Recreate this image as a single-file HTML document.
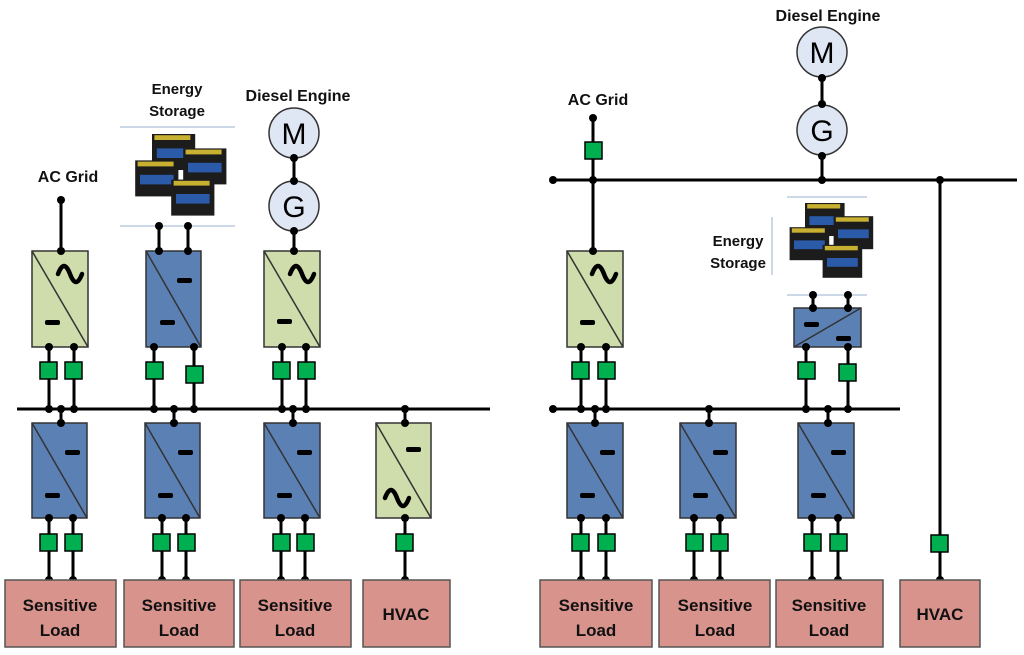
<!DOCTYPE html>
<html><head><meta charset="utf-8"><style>
html,body{margin:0;padding:0;background:#fff;width:1024px;height:655px;overflow:hidden}
text{font-family:"Liberation Sans",sans-serif;font-weight:bold}
</style></head><body>
<svg width="1024" height="655" viewBox="0 0 1024 655" xmlns="http://www.w3.org/2000/svg">
<defs>
<g id="bat">
 <rect x="0" y="0" width="36" height="30" fill="#1c1c1c"/><rect x="4" y="12" width="28" height="8" fill="#2a5aa8"/><rect x="2" y="1" width="30" height="4" fill="#c8b030"/>
</g>
<g id="bats">
 <use href="#bat" x="30" y="0"/><use href="#bat" x="56" y="12"/><use href="#bat" x="16" y="22"/><use href="#bat" x="46" y="38"/>
</g>
</defs>
<g stroke="#000" stroke-width="3" fill="none">
<line x1="17" y1="409" x2="490" y2="409"/>
<line x1="61" y1="200" x2="61" y2="251"/>
<line x1="159" y1="226" x2="159" y2="251"/><line x1="188" y1="226" x2="188" y2="251"/>
<line x1="294" y1="158" x2="294" y2="181"/><line x1="294" y1="231" x2="294" y2="251"/>
<line x1="49" y1="347" x2="49" y2="409"/><line x1="74" y1="347" x2="74" y2="409"/>
<line x1="154" y1="347" x2="154" y2="409"/><line x1="194" y1="347" x2="194" y2="409"/>
<line x1="282" y1="347" x2="282" y2="409"/><line x1="306" y1="347" x2="306" y2="409"/>
<line x1="61" y1="409" x2="61" y2="423"/><line x1="174" y1="409" x2="174" y2="423"/><line x1="293" y1="409" x2="293" y2="423"/><line x1="405" y1="409" x2="405" y2="423"/>
<line x1="49" y1="518" x2="49" y2="580"/><line x1="73" y1="518" x2="73" y2="580"/>
<line x1="162" y1="518" x2="162" y2="580"/><line x1="186" y1="518" x2="186" y2="580"/>
<line x1="281" y1="518" x2="281" y2="580"/><line x1="305" y1="518" x2="305" y2="580"/>
<line x1="405" y1="518" x2="405" y2="580"/>
<line x1="553" y1="180" x2="1017" y2="180"/>
<line x1="553" y1="409" x2="900" y2="409"/>
<line x1="593" y1="118" x2="593" y2="251"/>
<line x1="822" y1="78" x2="822" y2="104"/><line x1="822" y1="156" x2="822" y2="180"/>
<line x1="940" y1="180" x2="940" y2="580"/>
<line x1="581" y1="347" x2="581" y2="409"/><line x1="606" y1="347" x2="606" y2="409"/>
<line x1="813" y1="295" x2="813" y2="308"/><line x1="848" y1="295" x2="848" y2="308"/>
<line x1="806" y1="347" x2="806" y2="409"/><line x1="848" y1="347" x2="848" y2="409"/>
<line x1="595" y1="409" x2="595" y2="423"/><line x1="709" y1="409" x2="709" y2="423"/><line x1="828" y1="409" x2="828" y2="423"/>
<line x1="581" y1="518" x2="581" y2="580"/><line x1="606" y1="518" x2="606" y2="580"/>
<line x1="694" y1="518" x2="694" y2="580"/><line x1="720" y1="518" x2="720" y2="580"/>
<line x1="812" y1="518" x2="812" y2="580"/><line x1="838" y1="518" x2="838" y2="580"/>
</g>
<g stroke="#333" stroke-width="1.5">
<rect x="32" y="251" width="56" height="96" fill="#cfdcab"/><line x1="32" y1="251" x2="88" y2="347"/>
<rect x="146" y="251" width="55" height="96" fill="#5a80b4"/><line x1="146" y1="251" x2="201" y2="347"/>
<rect x="264" y="251" width="56" height="96" fill="#cfdcab"/><line x1="264" y1="251" x2="320" y2="347"/>
<rect x="32" y="423" width="55" height="95" fill="#5a80b4"/><line x1="32" y1="423" x2="87" y2="518"/>
<rect x="145" y="423" width="55" height="95" fill="#5a80b4"/><line x1="145" y1="423" x2="200" y2="518"/>
<rect x="264" y="423" width="56" height="95" fill="#5a80b4"/><line x1="264" y1="423" x2="320" y2="518"/>
<rect x="376" y="423" width="55" height="95" fill="#cfdcab"/><line x1="376" y1="423" x2="431" y2="518"/>
<rect x="567" y="251" width="56" height="96" fill="#cfdcab"/><line x1="567" y1="251" x2="623" y2="347"/>
<rect x="794" y="308" width="67" height="39" fill="#5a80b4"/><line x1="794" y1="347" x2="861" y2="308"/>
<rect x="567" y="423" width="56" height="95" fill="#5a80b4"/><line x1="567" y1="423" x2="623" y2="518"/>
<rect x="680" y="423" width="56" height="95" fill="#5a80b4"/><line x1="680" y1="423" x2="736" y2="518"/>
<rect x="798" y="423" width="56" height="95" fill="#5a80b4"/><line x1="798" y1="423" x2="854" y2="518"/>
</g>
<g fill="#000">
<rect x="45" y="320" width="15" height="5" rx="2"/><rect x="277" y="319" width="15" height="5" rx="2"/><rect x="580" y="320" width="15" height="5" rx="2"/>
<rect x="177" y="278" width="15" height="5" rx="2"/><rect x="160" y="320" width="15" height="5" rx="2"/>
<rect x="65" y="450" width="15" height="5" rx="2"/><rect x="45" y="493" width="15" height="5" rx="2"/>
<rect x="178" y="450" width="15" height="5" rx="2"/><rect x="158" y="493" width="15" height="5" rx="2"/>
<rect x="297" y="450" width="15" height="5" rx="2"/><rect x="277" y="493" width="15" height="5" rx="2"/>
<rect x="406" y="447" width="15" height="5" rx="2"/>
<rect x="600" y="450" width="15" height="5" rx="2"/><rect x="580" y="493" width="15" height="5" rx="2"/>
<rect x="713" y="450" width="15" height="5" rx="2"/><rect x="693" y="493" width="15" height="5" rx="2"/>
<rect x="831" y="450" width="15" height="5" rx="2"/><rect x="811" y="493" width="15" height="5" rx="2"/>
<rect x="804" y="322" width="15" height="5" rx="2"/><rect x="836" y="336" width="15" height="5" rx="2"/>
</g>
<g stroke="#000" stroke-width="4.5" fill="none" stroke-linecap="round">
<path d="M58 274 q6 -16 12 0 t12 0"/><path d="M290 274 q6 -16 12 0 t12 0"/><path d="M592 274 q6 -16 12 0 t12 0"/><path d="M385 498 q6 -16 12 0 t12 0"/>
</g>
<g fill="#00b050" stroke="#000" stroke-width="1.5">
<rect x="40" y="362" width="17" height="17"/><rect x="65" y="362" width="17" height="17"/>
<rect x="146" y="362" width="17" height="17"/><rect x="186" y="366" width="17" height="17"/>
<rect x="273" y="362" width="17" height="17"/><rect x="298" y="362" width="17" height="17"/>
<rect x="40" y="534" width="17" height="17"/><rect x="65" y="534" width="17" height="17"/>
<rect x="153" y="534" width="17" height="17"/><rect x="178" y="534" width="17" height="17"/>
<rect x="273" y="534" width="17" height="17"/><rect x="297" y="534" width="17" height="17"/>
<rect x="396" y="534" width="17" height="17"/>
<rect x="585" y="142" width="17" height="17"/>
<rect x="572" y="362" width="17" height="17"/><rect x="598" y="362" width="17" height="17"/>
<rect x="798" y="362" width="17" height="17"/><rect x="839" y="364" width="17" height="17"/>
<rect x="572" y="534" width="17" height="17"/><rect x="598" y="534" width="17" height="17"/>
<rect x="686" y="534" width="17" height="17"/><rect x="711" y="534" width="17" height="17"/>
<rect x="804" y="534" width="17" height="17"/><rect x="830" y="534" width="17" height="17"/>
<rect x="931" y="535" width="17" height="17"/>
</g>
<g fill="#dfe6f4" stroke="#333" stroke-width="1.5">
<circle cx="294" cy="133" r="25"/><circle cx="294" cy="206" r="25"/>
<circle cx="822" cy="52" r="25"/><circle cx="822" cy="130" r="25"/>
</g>
<g font-size="30" text-anchor="middle" fill="#000">
<text x="294" y="144" style="font-weight:normal">M</text><text x="294" y="217" style="font-weight:normal">G</text>
<text x="822" y="63" style="font-weight:normal">M</text><text x="822" y="141" style="font-weight:normal">G</text>
</g>
<line x1="120" y1="127" x2="235" y2="127" stroke="#9ab0d0"/><line x1="120" y1="226" x2="235" y2="226" stroke="#9ab0d0"/>
<use href="#bats" transform="translate(116,134) scale(1.2)"/>
<line x1="787" y1="197" x2="867" y2="197" stroke="#9ab0d0"/><line x1="787" y1="295" x2="867" y2="295" stroke="#9ab0d0"/><line x1="772" y1="217" x2="772" y2="275" stroke="#9ab0d0"/>
<use href="#bats" transform="translate(772,203) scale(1.1)"/>
<g fill="#000">
<circle cx="61" cy="200" r="4"/><circle cx="61" cy="251" r="4"/>
<circle cx="159" cy="226" r="4"/><circle cx="188" cy="226" r="4"/><circle cx="159" cy="251" r="4"/><circle cx="188" cy="251" r="4"/>
<circle cx="294" cy="158" r="4"/><circle cx="294" cy="181" r="4"/><circle cx="294" cy="231" r="4"/><circle cx="294" cy="251" r="4"/>
<circle cx="49" cy="347" r="4"/><circle cx="74" cy="347" r="4"/><circle cx="154" cy="347" r="4"/><circle cx="194" cy="347" r="4"/><circle cx="282" cy="347" r="4"/><circle cx="306" cy="347" r="4"/>
<circle cx="49" cy="409" r="4"/><circle cx="74" cy="409" r="4"/><circle cx="154" cy="409" r="4"/><circle cx="194" cy="409" r="4"/><circle cx="282" cy="409" r="4"/><circle cx="306" cy="409" r="4"/>
<circle cx="61" cy="409" r="4"/><circle cx="174" cy="409" r="4"/><circle cx="293" cy="409" r="4"/><circle cx="405" cy="409" r="4"/>
<circle cx="61" cy="423" r="4"/><circle cx="174" cy="423" r="4"/><circle cx="293" cy="423" r="4"/><circle cx="405" cy="423" r="4"/>
<circle cx="49" cy="518" r="4"/><circle cx="73" cy="518" r="4"/><circle cx="162" cy="518" r="4"/><circle cx="186" cy="518" r="4"/><circle cx="281" cy="518" r="4"/><circle cx="305" cy="518" r="4"/><circle cx="405" cy="518" r="4"/>
<circle cx="49" cy="580" r="4"/><circle cx="73" cy="580" r="4"/><circle cx="162" cy="580" r="4"/><circle cx="186" cy="580" r="4"/><circle cx="281" cy="580" r="4"/><circle cx="305" cy="580" r="4"/><circle cx="405" cy="580" r="4"/>
<circle cx="553" cy="180" r="4"/><circle cx="593" cy="118" r="4"/><circle cx="593" cy="180" r="4"/><circle cx="593" cy="251" r="4"/>
<circle cx="822" cy="78" r="4"/><circle cx="822" cy="104" r="4"/><circle cx="822" cy="156" r="4"/><circle cx="822" cy="180" r="4"/><circle cx="940" cy="180" r="4"/>
<circle cx="553" cy="409" r="4"/>
<circle cx="581" cy="347" r="4"/><circle cx="606" cy="347" r="4"/><circle cx="581" cy="409" r="4"/><circle cx="606" cy="409" r="4"/>
<circle cx="813" cy="295" r="4"/><circle cx="848" cy="295" r="4"/><circle cx="813" cy="308" r="4"/><circle cx="848" cy="308" r="4"/>
<circle cx="806" cy="347" r="4"/><circle cx="848" cy="347" r="4"/><circle cx="806" cy="409" r="4"/><circle cx="848" cy="409" r="4"/>
<circle cx="595" cy="409" r="4"/><circle cx="709" cy="409" r="4"/><circle cx="828" cy="409" r="4"/>
<circle cx="595" cy="423" r="4"/><circle cx="709" cy="423" r="4"/><circle cx="828" cy="423" r="4"/>
<circle cx="581" cy="518" r="4"/><circle cx="606" cy="518" r="4"/><circle cx="694" cy="518" r="4"/><circle cx="720" cy="518" r="4"/><circle cx="812" cy="518" r="4"/><circle cx="838" cy="518" r="4"/>
<circle cx="581" cy="580" r="4"/><circle cx="606" cy="580" r="4"/><circle cx="694" cy="580" r="4"/><circle cx="720" cy="580" r="4"/><circle cx="812" cy="580" r="4"/><circle cx="838" cy="580" r="4"/><circle cx="940" cy="580" r="4"/>
</g>
<g fill="#d9938d" stroke="#555" stroke-width="1.5">
<rect x="5" y="580" width="111" height="67"/><rect x="124" y="580" width="110" height="67"/><rect x="240" y="580" width="111" height="67"/><rect x="363" y="580" width="87" height="67"/>
<rect x="540" y="580" width="112" height="67"/><rect x="659" y="580" width="111" height="67"/><rect x="776" y="580" width="107" height="67"/><rect x="900" y="580" width="80" height="67"/>
</g>
<g font-size="17" text-anchor="middle" fill="#111">
<text x="60" y="611">Sensitive</text><text x="60" y="636">Load</text>
<text x="179" y="611">Sensitive</text><text x="179" y="636">Load</text>
<text x="295" y="611">Sensitive</text><text x="295" y="636">Load</text>
<text x="406" y="620">HVAC</text>
<text x="596" y="611">Sensitive</text><text x="596" y="636">Load</text>
<text x="715" y="611">Sensitive</text><text x="715" y="636">Load</text>
<text x="829" y="611">Sensitive</text><text x="829" y="636">Load</text>
<text x="940" y="620">HVAC</text>
<text x="68" y="182" font-size="16">AC Grid</text>
<text x="177" y="94" font-size="15">Energy</text><text x="177" y="116" font-size="15">Storage</text>
<text x="298" y="101" font-size="16">Diesel Engine</text>
<text x="598" y="105" font-size="16">AC Grid</text>
<text x="828" y="21" font-size="16">Diesel Engine</text>
<text x="738" y="246" font-size="15">Energy</text><text x="738" y="268" font-size="15">Storage</text>
</g>
</svg>
</body></html>
